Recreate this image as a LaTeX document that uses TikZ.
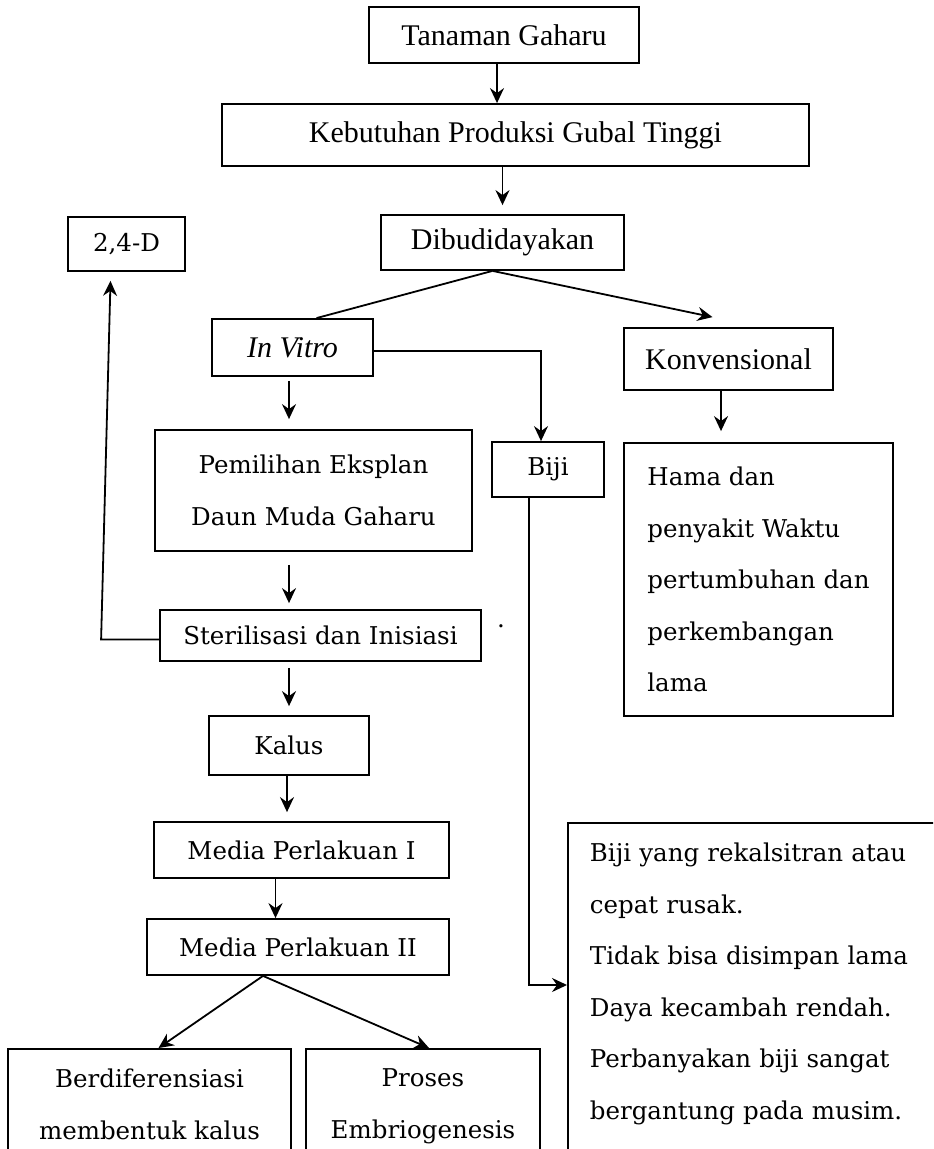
\documentclass[tikz,border=0pt]{standalone}
\usepackage{fontspec}
\setmainfont{Liberation Serif}
\newfontfamily\cambria{DejaVu Serif}
\usetikzlibrary{arrows.meta}

\begin{document}
\begin{tikzpicture}[x=0.5pt, y=-0.5pt,
every node/.style={draw, line width=0.9pt, inner sep=0pt, align=center, font=\cambria\fontsize{12.25}{25.75}\selectfont},
tnr/.style={font=\fontsize{15}{18}\selectfont},
arr/.style={-{Stealth[length=7.5pt,width=7pt,inset=2.5pt]}, line width=0.9pt},
ln/.style={line width=0.9pt}
]
\useasboundingbox (0,0) rectangle (933,1149);
\clip (0,0) rectangle (933,1149);

\node[tnr, minimum width=135pt, minimum height=28pt] at (504,35) (tanaman) {Tanaman Gaharu};
\node[tnr, minimum width=293.5pt, minimum height=31pt] at (515.5,135) (kebutuhan) {Kebutuhan Produksi Gubal Tinggi};
\node[tnr, minimum width=121.5pt, minimum height=27.5pt] at (502.5,242.5) (budidaya) {Dibudidayakan};
\node[minimum width=58.5pt, minimum height=27pt] at (126.5,244) (dfour) {2,4-D};
\node[tnr, minimum width=80.5pt, minimum height=28.5pt] at (292.5,347.5) (vitro) {\textit{In Vitro}};
\node[tnr, minimum width=104.5pt, minimum height=31pt] at (728.5,359) (konv) {Konvensional};
\node[minimum width=158.5pt, minimum height=60.5pt] at (313.5,490.5) (eksplan) {Pemilihan Eksplan\\Daun Muda Gaharu};
\node[minimum width=56pt, minimum height=27.5pt] at (548,469.5) (biji) {Biji};
\node[align=left, minimum width=134.5pt, minimum height=136.5pt] at (758.5,579.5) (hama) {Hama dan\\penyakit Waktu\\pertumbuhan dan\\perkembangan\\lama};
\node[minimum width=160.5pt, minimum height=25.5pt] at (320.5,635.5) (steril) {Sterilisasi dan Inisiasi};
\node[draw=none, anchor=base] at (501,627) (dot) {.};
\node[minimum width=80pt, minimum height=29.5pt] at (289,745.5) (kalus) {Kalus};
\node[minimum width=147.5pt, minimum height=28pt] at (301.5,850) (mediaa) {Media Perlakuan I};
\node[minimum width=151pt, minimum height=28pt] at (298,947) (mediab) {Media Perlakuan II};
\node[minimum width=141.5pt, inner ysep=10pt, anchor=north] at (149.5,1048) (berdif) {Berdiferensiasi\\membentuk kalus\\ \mbox{}};
\node[minimum width=117pt, inner ysep=10pt, anchor=north] at (423,1048) (proses) {Proses\\Embriogenesis\\ \mbox{}};
\node[align=left, text width=200pt, inner xsep=11pt, inner ysep=10pt, anchor=north west] at (567,822) (bigbiji) {Biji yang rekalsitran atau\\cepat rusak.\\Tidak bisa disimpan lama\\Daya kecambah rendah.\\Perbanyakan biji sangat\\bergantung pada musim.\\ \mbox{}};

\draw[arr] ([xshift=-3.5pt]tanaman.south) -- ([xshift=-3.5pt]tanaman.south |- kebutuhan.north);
\draw[arr, shorten >=4.5pt] (budidaya.north |- kebutuhan.south) -- (budidaya.north);
\draw[ln] ([xshift=-5pt]budidaya.south) -- ([xshift=12pt]vitro.north);
\draw[arr] ([xshift=-5pt]budidaya.south) -- ([xshift=-8pt,yshift=5pt]konv.north);
\draw[arr] ([yshift=-1.75pt]vitro.east) -| ([xshift=-3.5pt]biji.north);
\draw[arr, shorten <=2pt, shorten >=5pt] (vitro.south -| kalus.north) -- (eksplan.north -| kalus.north);
\draw[arr, shorten >=5.5pt] ([xshift=-3.75pt]konv.south) -- ([xshift=-3.75pt]konv.south |- hama.north);
\draw[arr] ([xshift=-9.5pt]biji.south) |- ([yshift=-81.5pt]bigbiji.north west);
\draw[arr, shorten <=6.5pt, shorten >=3pt] (eksplan.south -| kalus.north) -- (steril.north -| kalus.north);
\draw[arr] ([yshift=-2pt]steril.west) -- ++(-58,0) -- ([xshift=-8pt,yshift=-4.5pt]dfour.south);
\draw[arr, shorten <=3pt, shorten >=4.5pt] (steril.south -| kalus.north) -- (kalus.north);
\draw[arr, shorten >=4.5pt] ([xshift=-1pt]kalus.south) -- ([xshift=-1pt]kalus.south |- mediaa.north);
\draw[arr] ([xshift=-13pt]mediaa.south) -- ([xshift=-13pt]mediaa.south |- mediab.north);
\draw[arr] ([xshift=-17.5pt]mediab.south) -- ([xshift=4.5pt]berdif.north);
\draw[arr] ([xshift=-17.5pt]mediab.south) -- ([xshift=3pt]proses.north);

\end{tikzpicture}
\end{document}
